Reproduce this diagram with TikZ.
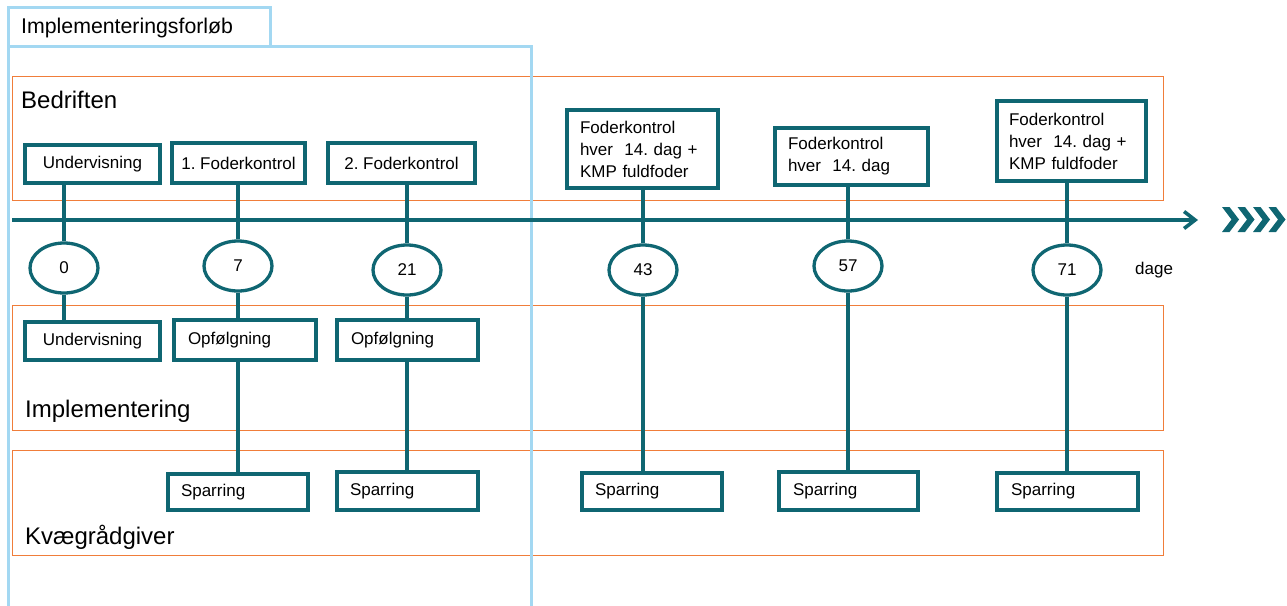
\documentclass[tikz,border=0pt]{standalone}
\usepackage{fontspec}
\setmainfont{Liberation Sans}
\usetikzlibrary{shapes.geometric,arrows.meta}
\frenchspacing
\definecolor{tealc}{HTML}{0F6672}
\definecolor{orangec}{HTML}{F07D3A}
\definecolor{bluec}{HTML}{A3D8F2}
\newcommand{\boxfont}{\fontsize{17}{22}\selectfont}
\newcommand{\secfont}{\fontsize{24}{28}\selectfont}
\tikzset{
  tbox/.style={draw=tealc, line width=3.3pt, fill=white, inner xsep=14pt, inner ysep=0pt, align=left, font=\boxfont},
  cbox/.style={draw=tealc, line width=3.3pt, fill=white, inner xsep=3pt, inner ysep=0pt, align=center, font=\boxfont},
  circ/.style={draw=tealc, line width=3.3pt, fill=white, ellipse, minimum width=68pt, minimum height=50pt, inner sep=0pt, font=\boxfont},
  conn/.style={draw=tealc, line width=3.3pt},
  lane/.style={draw=orangec, line width=1pt},
  phase/.style={draw=bluec, line width=3pt},
  lbl/.style={anchor=west, inner sep=0pt, font=\secfont},
  chev/.style={fill=tealc, draw=none}
}
\begin{document}
\begin{tikzpicture}[x=1pt,y=-1pt]
\useasboundingbox (0,0) rectangle (1287,605);
% lanes
\draw[lane] (12,76) rectangle (1163,200);
\draw[lane] (12,305) rectangle (1163,430);
\draw[lane] (12,450) rectangle (1163,555);
\node[lbl] (lb1) at (21,100) {Bedriften};
\node[lbl] (lb2) at (25,411) {Implementering};
\node[lbl] (lb3) at (25,537) {Kvægrådgiver};
% phase
\draw[phase] (8,7) rectangle (270,46);
\draw[phase] (8,610) -- (8,46) -- (531,46) -- (531,610);
\node[anchor=west, inner sep=0pt, font=\fontsize{21.3}{25}\selectfont] (tab) at (21,28) {Implementeringsforløb};
% timeline
\coordinate (as) at (12,220);
\coordinate (ae) at (1198,220);
\draw[tealc, line width=3.6pt, -{Straight Barb[length=11pt,width=17pt,line width=3.6pt]}] (as) -- (ae);
\foreach \x in {1222,1237.5,1253,1268.5}{
  \fill[chev] (\x,207) -- (\x+7.5,207) -- (\x+17,219.5) -- (\x+7.5,232) -- (\x,232) -- (\x+9.5,219.5) -- cycle;
}
\node[anchor=west, inner sep=0pt, font=\boxfont] (dage) at (1135,270) {dage};
% circles
\node[circ] (c0) at (64,268) {0};
\node[circ] (c7) at (238,266) {7};
\node[circ] (c21) at (407,270) {21};
\node[circ] (c43) at (643,270) {43};
\node[circ] (c57) at (848,266) {57};
\node[circ] (c71) at (1067,270) {71};
% top boxes
\node[cbox, minimum width=135pt, minimum height=38pt] (tu) at (92.5,164) {Undervisning};
\node[cbox, minimum width=133pt, minimum height=40pt] (t7) at (238.5,163) {1. Foderkontrol};
\node[cbox, minimum width=147pt, minimum height=40pt] (t21) at (401.5,163) {2. Foderkontrol};
\node[tbox, minimum width=151pt, minimum height=78pt, text width=125pt, inner xsep=13pt] (t43) at (642.5,149) {Foderkontrol\\hver\ \ 14. dag +\\KMP fuldfoder};
\node[tbox, minimum width=153pt, minimum height=57pt, text width=127pt, inner xsep=13pt] (t57) at (851.5,156.5) {Foderkontrol\\hver\ \ 14. dag};
\node[tbox, minimum width=149pt, minimum height=80pt, text width=125pt, inner xsep=12pt] (t71) at (1071.5,141) {Foderkontrol\\hver\ \ 14. dag +\\KMP fuldfoder};
% bottom boxes
\node[cbox, minimum width=135pt, minimum height=38pt] (bu) at (92.5,341) {Undervisning};
\node[tbox, minimum width=142pt, minimum height=40pt, text width=114pt] (o7) at (245,340) {Opfølgning};
\node[tbox, minimum width=141pt, minimum height=40pt, text width=113pt] (o21) at (407.5,340) {Opfølgning};
\node[tbox, minimum width=140pt, minimum height=36pt, text width=114pt, inner xsep=13pt] (s7) at (238,492) {Sparring};
\node[tbox, minimum width=141pt, minimum height=38pt, text width=115pt, inner xsep=13pt] (s21) at (407.5,491) {Sparring};
\node[tbox, minimum width=140pt, minimum height=37pt, text width=114pt, inner xsep=13pt] (s43) at (652,491.5) {Sparring};
\node[tbox, minimum width=139pt, minimum height=38pt, text width=111pt, inner xsep=14pt] (s57) at (848.5,491) {Sparring};
\node[tbox, minimum width=141pt, minimum height=37pt, text width=113pt, inner xsep=14pt] (s71) at (1067.5,491.5) {Sparring};
% connectors
\draw[conn] (c0.north |- tu.south) -- (c0.north);
\draw[conn] (c7.north |- t7.south) -- (c7.north);
\draw[conn] (c21.north |- t21.south) -- (c21.north);
\draw[conn] (c43.north |- t43.south) -- (c43.north);
\draw[conn] (c57.north |- t57.south) -- (c57.north);
\draw[conn] (c71.north |- t71.south) -- (c71.north);
\draw[conn] (c0.south) -- (c0.south |- bu.north);
\draw[conn] (c7.south) -- (c7.south |- o7.north);
\draw[conn] (c21.south) -- (c21.south |- o21.north);
\draw[conn] (c7.south |- o7.south) -- (c7.south |- s7.north);
\draw[conn] (c21.south |- o21.south) -- (c21.south |- s21.north);
\draw[conn] (c43.south) -- (c43.south |- s43.north);
\draw[conn] (c57.south) -- (c57.south |- s57.north);
\draw[conn] (c71.south) -- (c71.south |- s71.north);
\end{tikzpicture}
\end{document}
